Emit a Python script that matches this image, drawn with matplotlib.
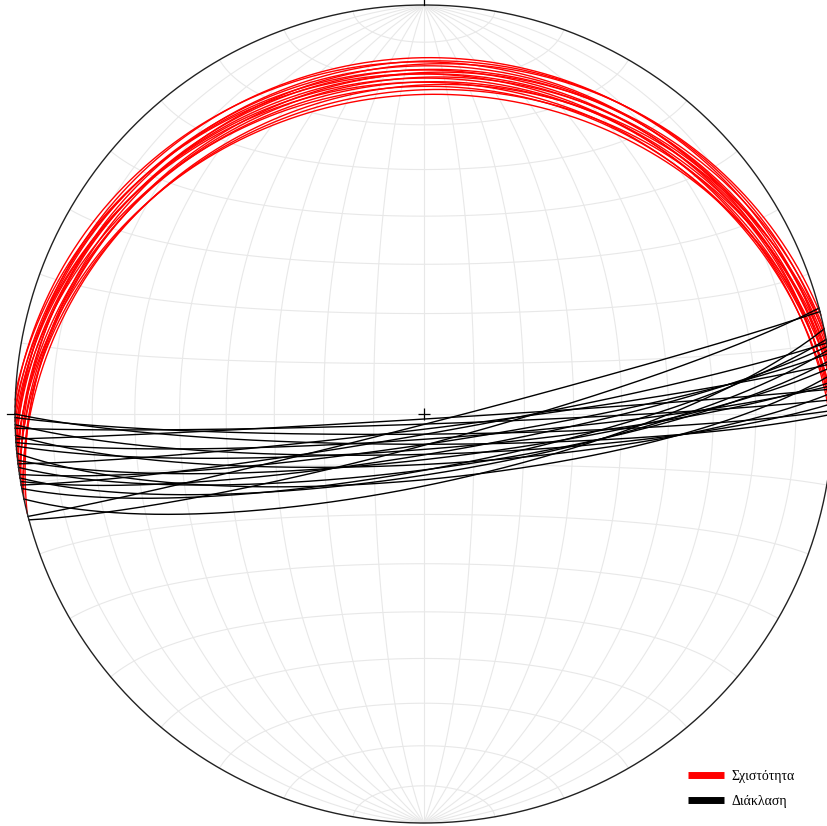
import numpy as np
import matplotlib
matplotlib.use("Agg")
import matplotlib.pyplot as plt
from matplotlib.lines import Line2D

# Schistosity planes (dip direction, dip) in degrees
schist_dipdir = [346, 348, 349, 350, 351, 352, 353, 354, 355, 355, 356, 357, 358, 359, 0, 1, 2, 3]
schist_dip = [16, 18, 21, 15, 19, 22, 17, 20, 14, 23, 18, 16, 21, 19, 17, 20, 15, 18]

# Joint planes (dip direction, dip) in degrees
joint_dipdir = [180, 179.5, 178.5, 178, 177, 176, 175.5, 174.5, 173.5, 173, 172.5,
                171.5, 171, 170.5, 170, 169.5, 168, 165.5, 165, 176.5]
joint_dip = [84, 86, 82, 88, 80, 85, 83, 77, 81, 87, 79,
             84, 78, 82, 86, 79, 76, 88, 84, 89]

legend_labels = ["Σχιστότητα", "Διάκλαση"]
legend_colors = ["#ff0000", "#000000"]

# Figure layout: net centre / radius in pixels
W, H = 827, 826
CX, CY, R = 424, 414, 409


def project(e, n, u):
    """Lower-hemisphere equal-area (Schmidt) projection, unit primitive."""
    k = 1.0 / np.sqrt(1.0 - u)
    return e * k, n * k


def great_circle(dipdir, dip, num=361):
    d = np.radians(dipdir)
    dp = np.radians(dip)
    sv = np.array([np.sin(d - np.pi / 2), np.cos(d - np.pi / 2), 0.0])
    dv = np.array([np.sin(d) * np.cos(dp), np.cos(d) * np.cos(dp), -np.sin(dp)])
    a = np.linspace(0, np.pi, num)[:, None]
    v = np.cos(a) * sv + np.sin(a) * dv
    u = np.minimum(v[:, 2], 0.0)
    return project(v[:, 0], v[:, 1], u)


fig = plt.figure(figsize=(W / 100, H / 100), dpi=100)
ax = fig.add_axes([0, 0, 1, 1])
ax.set_xlim((0 - CX) / R, (W - CX) / R)
ax.set_ylim((CY - H) / R, CY / R)
ax.axis("off")

grid_kw = dict(color="#e8e8e8", lw=0.8, zorder=1)

# Meridians (great circles through N and S)
phi = np.radians(np.linspace(-90, 90, 361))
for lon in range(-80, 81, 10):
    lam = np.radians(lon)
    e = np.cos(phi) * np.sin(lam)
    n = np.sin(phi)
    u = -np.cos(phi) * np.cos(lam)
    ax.plot(*project(e, n, u), **grid_kw)

# Small circles of latitude about the N-S axis
lam = np.radians(np.linspace(-90, 90, 361))
for lat in range(-80, 81, 10):
    p = np.radians(lat)
    e = np.cos(p) * np.sin(lam)
    n = np.full_like(lam, np.sin(p))
    u = -np.cos(p) * np.cos(lam)
    ax.plot(*project(e, n, u), **grid_kw)

# Primitive circle
t = np.linspace(0, 2 * np.pi, 721)
ax.plot(np.cos(t), np.sin(t), color="#222222", lw=1.0, zorder=4)

# Cardinal ticks and centre cross
tick = 8 / R
ax.plot([0, 0], [1, 1 + tick], color="black", lw=0.9, zorder=4)
ax.plot([-1 - tick, -1], [0, 0], color="black", lw=0.9, zorder=4)
ax.plot([1, 1 + tick], [0, 0], color="black", lw=0.9, zorder=4)
ax.plot([0], [0], marker="+", ms=9, mew=0.9, color="black", zorder=5)

for dd, dp in zip(schist_dipdir, schist_dip):
    ax.plot(*great_circle(dd, dp), color=legend_colors[0], lw=1.0, zorder=3)

for dd, dp in zip(joint_dipdir, joint_dip):
    ax.plot(*great_circle(dd, dp), color=legend_colors[1], lw=1.0, zorder=3)

handles = [Line2D([], [], color=c, lw=5, solid_capstyle="butt") for c in legend_colors]
fig.legend(handles, legend_labels, loc="lower left",
           bbox_to_anchor=(681 / W, 11 / H), bbox_transform=fig.transFigure,
           frameon=False, borderpad=0, handlelength=2.6, handletextpad=0.5,
           labelspacing=0.9,
           prop={"family": ["Liberation Serif", "DejaVu Serif"], "size": 10})

fig.savefig("out.png", dpi=100)
